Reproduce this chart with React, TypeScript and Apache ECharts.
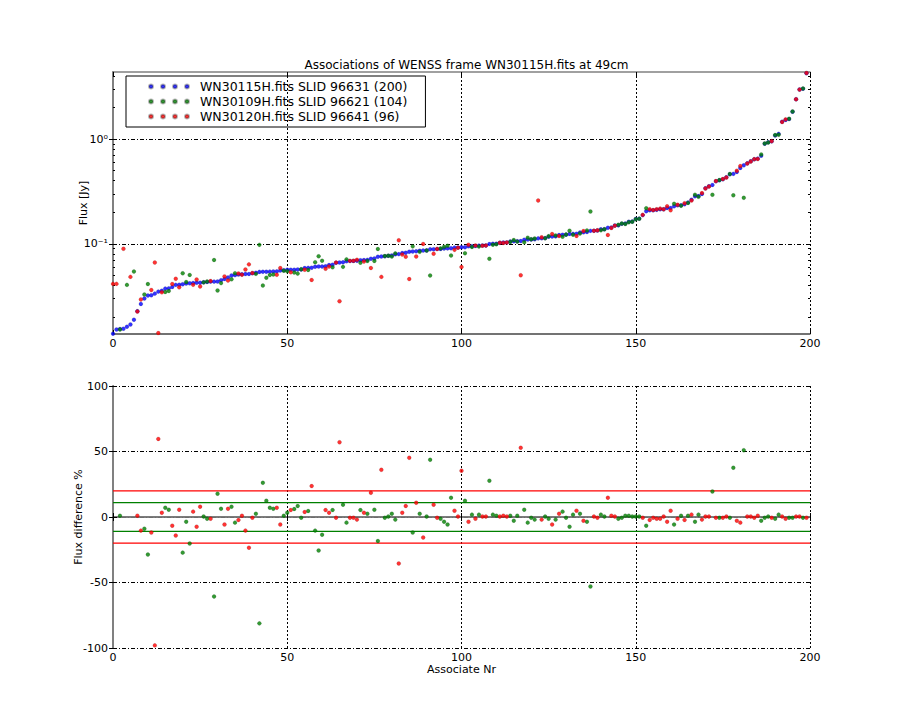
import React, { useEffect, useRef } from "react";
import * as echarts from "echarts";

const titleText = "Associations of WENSS frame WN30115H.fits at 49cm";
const seriesNames = [
  "WN30115H.fits SLID 96631 (200)",
  "WN30109H.fits SLID 96621 (104)",
  "WN30120H.fits SLID 96641 (96)",
];
const xTicks = [0, 50, 100, 150, 200];
const fluxMajorTicks = [0.1, 1];
const fluxMinorTicks = [0.02, 0.03, 0.04, 0.05, 0.06, 0.07, 0.08, 0.09, 0.2, 0.3, 0.4, 0.5, 0.6, 0.7, 0.8, 0.9, 2, 3, 4];
const diffTicks = [-100, -50, 0, 50, 100];
const redLimit = 20;
const greenLimit = 11;

// flux of the associated source in the reference frame (blue)
const blueFlux = [
  0.0139, 0.0152, 0.0154, 0.0155, 0.0162, 0.0170, 0.0189, 0.0228, 0.0267, 0.0301,
  0.0321, 0.0324, 0.0335, 0.0350, 0.0357, 0.0374, 0.0376, 0.0388, 0.0406, 0.0408,
  0.0412, 0.0418, 0.0420, 0.0424, 0.0425, 0.0426, 0.0430, 0.0432, 0.0436, 0.0436,
  0.0437, 0.0450, 0.0462, 0.0477, 0.0498, 0.0503, 0.0509, 0.0512, 0.0515, 0.0516,
  0.0525, 0.0530, 0.0540, 0.0541, 0.0542, 0.0543, 0.0545, 0.0546, 0.0556, 0.0561,
  0.0566, 0.0566, 0.0567, 0.0568, 0.0570, 0.0588, 0.0590, 0.0592, 0.0605, 0.0607,
  0.0608, 0.0610, 0.0628, 0.0632, 0.0660, 0.0663, 0.0666, 0.0682, 0.0685, 0.0687,
  0.0690, 0.0698, 0.0700, 0.0703, 0.0722, 0.0726, 0.0754, 0.0757, 0.0760, 0.0771,
  0.0775, 0.0795, 0.0798, 0.0818, 0.0822, 0.0842, 0.0845, 0.0848, 0.0860, 0.0863,
  0.0866, 0.0887, 0.0889, 0.0891, 0.0893, 0.0903, 0.0905, 0.0907, 0.0920, 0.0922,
  0.0928, 0.0930, 0.0948, 0.0950, 0.0952, 0.0962, 0.0964, 0.0966, 0.0996, 0.1000,
  0.1003, 0.1025, 0.1028, 0.1031, 0.1055, 0.1058, 0.1061, 0.1064, 0.1095, 0.1098,
  0.1101, 0.1104, 0.1128, 0.1131, 0.1134, 0.1170, 0.1174, 0.1178, 0.1216, 0.1220,
  0.1224, 0.1242, 0.1245, 0.1248, 0.1285, 0.1290, 0.1295, 0.1330, 0.1335, 0.1340,
  0.1375, 0.1380, 0.1425, 0.1430, 0.1495, 0.1500, 0.1555, 0.1560, 0.1625, 0.1630,
  0.1725, 0.1740, 0.188, 0.205, 0.209, 0.209, 0.211, 0.214, 0.214, 0.220,
  0.220, 0.228, 0.233, 0.233, 0.239, 0.248, 0.264, 0.284, 0.286, 0.299,
  0.339, 0.354, 0.365, 0.395, 0.404, 0.413, 0.431, 0.462, 0.465, 0.485,
  0.530, 0.561, 0.586, 0.613, 0.640, 0.650, 0.694, 0.903, 0.930, 0.950,
  1.08, 1.12, 1.46, 1.52, 1.55, 1.82, 2.40, 2.97, 3.02, 4.25,
];

// which frame the matched source comes from: G = WN30109H (green), R = WN30120H (red)
const matchFrame = (
  "RRGRGRGRRG" + "GRRRRGGRRR" + "GGGRRRGGRG" + "GGRRGGRRRR" + "RGGGGGGRRG" +
  "GRGGGRGRGG" + "GRRGRRGGRR" + "RGRGRGGRGG" + "GGRRRRGRGR" + "GGRRGGGGRR" +
  "RGRGRGRRGG" + "GRRRGGGRGG" + "GGRRGGRGRG" + "GGGRGRGGRR" + "GGRRRGGGGG" +
  "GGRGRRRRRR" + "RGRGRGRGGR" + "RRGRGRRGGR" + "RGRRRRGGGR" + "GGRRGGRRGR"
).split("");

// flux of the matched source in the neighbouring frame
const matchFlux = [
  0.0415, 0.0415, 0.0152, 0.0896, 0.0406, 0.0484, 0.0544, 0.0226, 0.0295, 0.0328,
  0.0413, 0.0363, 0.0663, 0.0141, 0.0345, 0.0347, 0.0355, 0.0414, 0.0464, 0.0385,
  0.0524, 0.0433, 0.0505, 0.0407, 0.0456, 0.0392, 0.0429, 0.0438, 0.0442, 0.0701,
  0.0359, 0.0422, 0.0489, 0.0447, 0.0459, 0.0525, 0.0521, 0.0507, 0.0569, 0.0637,
  0.0528, 0.0517, 0.0978, 0.0400, 0.0475, 0.0504, 0.0511, 0.0507, 0.0588, 0.0555,
  0.0547, 0.0536, 0.0532, 0.0520, 0.0573, 0.0566, 0.0563, 0.0452, 0.0668, 0.0762,
  0.0690, 0.0578, 0.0607, 0.0598, 0.0663, 0.0284, 0.0603, 0.0711, 0.0688, 0.0690,
  0.0704, 0.0661, 0.0677, 0.0685, 0.0588, 0.0685, 0.0892, 0.0484, 0.0764, 0.0769,
  0.0756, 0.0811, 0.1081, 0.0791, 0.0753, 0.0461, 0.0946, 0.0756, 0.0839, 0.0998,
  0.0863, 0.0499, 0.0805, 0.0895, 0.0905, 0.0936, 0.0957, 0.0774, 0.0876, 0.0919,
  0.0600, 0.0815, 0.0982, 0.0933, 0.0964, 0.0945, 0.0961, 0.0963, 0.0720, 0.0982,
  0.0993, 0.1022, 0.1018, 0.1028, 0.1044, 0.1088, 0.1050, 0.0502, 0.1034, 0.1145,
  0.1107, 0.1126, 0.259, 0.1154, 0.1131, 0.1185, 0.1242, 0.1202, 0.1186, 0.1170,
  0.1230, 0.1334, 0.1223, 0.1188, 0.1253, 0.1326, 0.1342, 0.2035, 0.1331, 0.1347,
  0.1350, 0.1376, 0.1215, 0.1416, 0.1491, 0.1520, 0.1563, 0.1544, 0.1609, 0.1625,
  0.1720, 0.1735, 0.189, 0.2185, 0.2138, 0.2100, 0.2137, 0.2168, 0.2134, 0.2279,
  0.2094, 0.2412, 0.2360, 0.2307, 0.2445, 0.2455, 0.2592, 0.2942, 0.2809, 0.3050,
  0.3380, 0.3529, 0.2938, 0.3970, 0.4060, 0.4151, 0.4297, 0.4643, 0.2902, 0.4986,
  0.5528, 0.2749, 0.5842, 0.6112, 0.6432, 0.6435, 0.7134, 0.9075, 0.9272, 0.9548,
  1.094, 1.100, 1.456, 1.540, 1.558, 1.829, 2.393, 2.961, 3.035, 4.27,
];

// flux difference in percent (null = outside the plotted range)
const fluxDiff = [
  null, null, 1.0, null, null, null, null, 1.0, -10.4, -8.9,
  -28.7, -11.9, -98, 59.6, 3.3, 7.1, 5.6, -6.6, -14.2, 5.6,
  -27.2, -3.6, -20.3, 4.1, -7.4, 7.9, 0.3, -1.3, -1.3, -60.7,
  17.8, 6.3, -5.8, 6.3, 7.9, -4.3, -2.3, 1.0, -10.4, -23.4,
  -0.5, 2.5, -81.2, 26.1, 12.4, 7.1, 6.3, 7.1, -5.8, 1.0,
  3.3, 5.3, 6.1, 8.4, -0.5, 3.8, 4.6, 23.6, -10.4, -25.6,
  -13.5, 5.3, 3.3, 5.3, -0.5, 57.1, 9.4, -4.3, -0.5, -0.5,
  -2.0, 5.3, 3.3, 2.5, 18.5, 5.6, -18.3, 36.0, -0.5, 0.3,
  2.5, -2.0, -35.5, 3.3, 8.4, 45.2, -11.9, 10.9, 2.5, -15.7,
  0.3, 43.7, 9.4, -0.5, -1.3, -3.6, -5.8, 14.7, 4.8, 0.3,
  35.3, 12.4, -3.6, 1.8, -1.3, 1.8, 0.3, 0.3, 27.7, 1.8,
  1.0, 0.3, 1.0, 0.3, 1.0, -2.8, 1.0, 52.8, 5.6, -4.3,
  -0.5, -2.0, null, -2.0, 0.3, -1.3, -5.8, -2.0, 2.5, 4.1,
  -0.5, -7.4, 1.8, 4.8, 2.5, -2.8, -3.6, -53, 0.3, -0.5,
  1.8, 0.3, 14.7, 1.0, 0.3, -1.3, -0.5, 1.0, 1.0, 0.3,
  0.3, 0.3, -0.5, -6.6, -2.3, -0.5, -1.3, -1.3, 0.3, -3.6,
  4.8, -5.8, -1.3, 1.0, -2.3, 1.0, 1.8, -3.6, 1.8, -2.0,
  0.3, 0.3, 19.5, -0.5, -0.5, -0.5, 0.3, -0.5, 37.6, -2.8,
  -4.3, 51.0, 0.3, 0.3, -0.5, 1.0, -2.8, -0.5, 0.3, -0.5,
  -1.3, 1.8, 0.3, -1.3, -0.5, -0.5, 0.3, 0.3, -0.5, -0.5,
];

const FONT = "DejaVu Sans";
const BLUE = "#0000ff";
const GREEN = "#008000";
const RED = "#ff0000";

const legendIcon =
  "path://M0,2A2,2 0 1,0 4,2A2,2 0 1,0 0,2Z" +
  "M12,2A2,2 0 1,0 16,2A2,2 0 1,0 12,2Z" +
  "M24,2A2,2 0 1,0 28,2A2,2 0 1,0 24,2Z" +
  "M36,2A2,2 0 1,0 40,2A2,2 0 1,0 36,2Z";

function buildOption() {
  const bluePts = blueFlux.map((v, i) => [i, v]);
  const greenPts: number[][] = [];
  const redPts: number[][] = [];
  const greenDiff: number[][] = [];
  const redDiff: number[][] = [];
  matchFrame.forEach((f, i) => {
    const target = f === "G" ? greenPts : redPts;
    target.push([i, matchFlux[i]]);
    const d = fluxDiff[i];
    if (d !== null) (f === "G" ? greenDiff : redDiff).push([i, d]);
  });

  const xMin = xTicks[0];
  const xMax = xTicks[xTicks.length - 1];
  const hDash = [4, 2, 1, 2];
  const vDash = [2, 2];
  const labelStyle = { color: "#000", fontFamily: FONT, fontSize: 11 };
  const marker = (color: string) => ({
    color,
    borderColor: "rgba(0,0,0,0.35)",
    borderWidth: 0.4,
  });
  const SYM = 4;

  const xBottom = (grid: number, name?: string) => ({
    type: "value",
    gridIndex: grid,
    position: "bottom",
    min: xMin,
    max: xMax,
    interval: 50,
    name,
    nameLocation: "middle",
    nameGap: 16,
    nameMoveOverlap: false,
    nameTextStyle: labelStyle,
    axisLine: { show: true, lineStyle: { color: "#444", width: 1.5 } },
    axisTick: { show: true, inside: true, length: 4, lineStyle: { color: "#000" } },
    axisLabel: { ...labelStyle, margin: 4, customValues: xTicks },
    splitLine: { show: true, lineStyle: { color: "#000", type: vDash, width: 1 } },
  });
  const xTop = (grid: number) => ({
    type: "value",
    gridIndex: grid,
    position: "top",
    min: xMin,
    max: xMax,
    interval: 50,
    axisLine: { show: true, lineStyle: { color: "#808080", width: 1.5 } },
    axisTick: { show: true, inside: true, length: 4, lineStyle: { color: "#000" } },
    axisLabel: { show: false },
    splitLine: { show: false },
  });

  const logAxis = (pos: string, ticks: number[], len: number, extra: any) => ({
    type: "log",
    logBase: 10,
    gridIndex: 0,
    position: pos,
    min: 0.0138,
    max: 4.36,
    axisLine: { show: false },
    axisTick: { show: true, inside: true, length: len, customValues: ticks, lineStyle: { color: "#000" } },
    axisLabel: { show: false },
    splitLine: { show: false },
    ...extra,
  });

  const limitSeries = (v: number, color: string) => ({
    type: "line",
    xAxisIndex: 2,
    yAxisIndex: 4,
    symbol: "none",
    silent: true,
    z: 1,
    lineStyle: { color, width: 1.2, type: "solid" },
    itemStyle: { color },
    data: [
      [xMin, v],
      [xMax, v],
    ],
  });

  return {
    animation: false,
    backgroundColor: "#ffffff",
    title: {
      text: titleText,
      left: 461.5,
      top: 54,
      textAlign: "center",
      textStyle: { fontFamily: FONT, fontSize: 12, fontWeight: "normal", color: "#000" },
    },
    legend: {
      left: 126,
      top: 76,
      orient: "vertical",
      padding: [3, 18, 3, 22],
      itemGap: 0,
      itemWidth: 40,
      itemHeight: 4,
      icon: legendIcon,
      borderColor: "#000",
      borderWidth: 1,
      borderRadius: 0,
      textStyle: { fontFamily: FONT, fontSize: 12.5, lineHeight: 15, color: "#000", padding: [0, 0, 0, 6] },
      data: seriesNames,
    },
    grid: [
      { left: 113, top: 72, width: 697, height: 262 },
      { left: 113, top: 386, width: 697, height: 262 },
    ],
    xAxis: [xBottom(0), xTop(0), xBottom(1, "Associate Nr"), xTop(1)],
    yAxis: [
      logAxis("left", fluxMajorTicks, 4, {
        name: "Flux [Jy]",
        nameLocation: "middle",
        nameGap: 24,
        nameMoveOverlap: false,
        nameTextStyle: labelStyle,
        axisLine: { show: true, lineStyle: { color: "#000", width: 1 } },
        axisLabel: {
          ...labelStyle,
          margin: 5,
          customValues: fluxMajorTicks,
          formatter: (v: number) => (v > 0.5 ? "10\u2070" : "10\u207B\u00B9"),
        },
        splitLine: { show: true, lineStyle: { color: "#000", type: hDash, width: 1 } },
      }),
      logAxis("right", fluxMajorTicks, 4, {
        axisLine: { show: true, lineStyle: { color: "#808080", width: 2 } },
      }),
      logAxis("left", fluxMinorTicks, 2, {}),
      logAxis("right", fluxMinorTicks, 2, {}),
      {
        type: "value",
        gridIndex: 1,
        position: "left",
        min: -100,
        max: 100,
        interval: 50,
        name: "Flux difference %",
        nameLocation: "middle",
        nameGap: 29,
        nameMoveOverlap: false,
        nameTextStyle: labelStyle,
        axisLine: { show: true, lineStyle: { color: "#000", width: 1 } },
        axisTick: { show: true, inside: true, length: 4, lineStyle: { color: "#000" } },
        axisLabel: { ...labelStyle, margin: 5, customValues: diffTicks },
        splitLine: { show: true, lineStyle: { color: "#000", type: hDash, width: 1 } },
      },
      {
        type: "value",
        gridIndex: 1,
        position: "right",
        min: -100,
        max: 100,
        interval: 50,
        axisLine: { show: true, lineStyle: { color: "#808080", width: 2 } },
        axisTick: { show: true, inside: true, length: 4, lineStyle: { color: "#000" } },
        axisLabel: { show: false },
        splitLine: { show: false },
      },
    ],
    series: [
      {
        name: seriesNames[0],
        type: "scatter",
        xAxisIndex: 0,
        yAxisIndex: 0,
        symbolSize: SYM,
        itemStyle: marker(BLUE),
        data: bluePts,
      },
      {
        name: seriesNames[1],
        type: "scatter",
        xAxisIndex: 0,
        yAxisIndex: 0,
        symbolSize: SYM,
        itemStyle: marker(GREEN),
        data: greenPts,
      },
      {
        name: seriesNames[2],
        type: "scatter",
        xAxisIndex: 0,
        yAxisIndex: 0,
        symbolSize: SYM,
        itemStyle: marker(RED),
        data: redPts,
      },
      limitSeries(redLimit, RED),
      limitSeries(-redLimit, RED),
      limitSeries(greenLimit, GREEN),
      limitSeries(-greenLimit, GREEN),
      {
        name: "diff-green",
        type: "scatter",
        xAxisIndex: 2,
        yAxisIndex: 4,
        symbolSize: SYM,
        z: 3,
        itemStyle: marker(GREEN),
        data: greenDiff,
      },
      {
        name: "diff-red",
        type: "scatter",
        xAxisIndex: 2,
        yAxisIndex: 4,
        symbolSize: SYM,
        z: 3,
        itemStyle: marker(RED),
        data: redDiff,
      },
    ],
  };
}

export default function App() {
  const ref = useRef<HTMLDivElement>(null);
  useEffect(() => {
    if (!ref.current) return;
    const chart = echarts.init(ref.current, null, { renderer: "svg" });
    chart.setOption(buildOption() as any);
    return () => chart.dispose();
  }, []);
  return (
    <div
      ref={ref}
      style={{ position: "fixed", left: 0, top: 0, width: 900, height: 720, background: "#fff" }}
    />
  );
}
